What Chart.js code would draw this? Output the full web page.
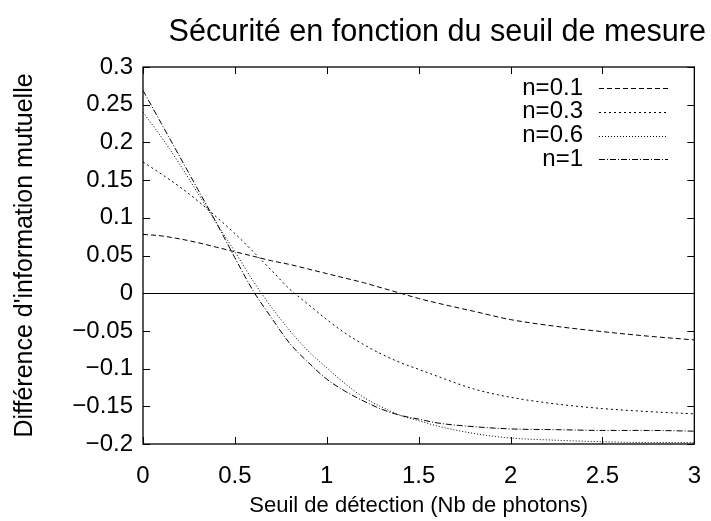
<!DOCTYPE html>
<html>
<head>
<meta charset="utf-8">
<script src="https://cdn.jsdelivr.net/npm/chart.js@4/dist/chart.umd.min.js"></script>
<style>
html,body{margin:0;padding:0;background:#fff;}
#wrap{width:711px;height:521px;}
</style>
</head>
<body>
<div id="wrap"><canvas id="c" width="711" height="521"></canvas></div>
<script>
const chartTitle = "Sécurité en fonction du seuil de mesure";
const xAxisTitle = "Seuil de détection (Nb de photons)";
const yAxisTitle = "Différence d'information mutuelle";

const seriesLabels = ["n=0.1", "n=0.3", "n=0.6", "n=1"];
const thresholds = [0, 0.1, 0.2, 0.3, 0.4, 0.5, 0.6, 0.7, 0.8, 0.9, 1.0, 1.1, 1.2, 1.3, 1.4, 1.5, 1.6, 1.8, 2.0, 2.25, 2.5, 2.75, 3.0];
const n01 = [0.078, 0.076, 0.072, 0.067, 0.061, 0.055, 0.049, 0.043, 0.038, 0.032, 0.026, 0.020, 0.014, 0.007, 0.000, -0.007, -0.013, -0.024, -0.035, -0.044, -0.051, -0.057, -0.062];
const n03 = [0.174, 0.158, 0.141, 0.122, 0.101, 0.079, 0.055, 0.030, 0.005, -0.015, -0.035, -0.053, -0.068, -0.081, -0.092, -0.101, -0.110, -0.127, -0.138, -0.147, -0.153, -0.157, -0.160];
const n06 = [0.240, 0.207, 0.171, 0.132, 0.093, 0.055, 0.016, -0.019, -0.050, -0.077, -0.099, -0.120, -0.138, -0.151, -0.162, -0.169, -0.176, -0.186, -0.192, -0.195, -0.197, -0.198, -0.198];
const n1 = [0.269, 0.225, 0.181, 0.137, 0.093, 0.047, 0.003, -0.033, -0.067, -0.092, -0.114, -0.130, -0.143, -0.154, -0.162, -0.167, -0.172, -0.177, -0.180, -0.181, -0.182, -0.182, -0.183];

const xTicks = [0, 0.5, 1, 1.5, 2, 2.5, 3];
const yTicks = [-0.2, -0.15, -0.1, -0.05, 0, 0.05, 0.1, 0.15, 0.2, 0.25, 0.3];

const FONT = "'Liberation Sans', Arial, Helvetica, sans-serif";
const dashes = [[5, 3], [2, 3], [1, 2], [6, 2, 1, 2]];
const allSeries = [n01, n03, n06, n1];

function fmt(v) {
  const s = String(Number(v.toFixed(2)));
  return s.replace('-', '\u2212');
}

const datasets = allSeries.map((arr, i) => ({
  label: seriesLabels[i],
  data: arr.map((y, k) => ({x: thresholds[k], y: y})),
  borderColor: '#000',
  borderWidth: 1,
  borderDash: dashes[i],
  pointRadius: 0,
  fill: false,
  cubicInterpolationMode: 'monotone'
}));

const framePlugin = {
  id: 'frame',
  afterDraw(chart) {
    const ctx = chart.ctx;
    const a = chart.chartArea;
    const xs = chart.scales.x, ys = chart.scales.y;
    ctx.save();
    ctx.strokeStyle = '#000';
    ctx.lineWidth = 1.3;
    ctx.setLineDash([]);
    ctx.strokeRect(a.left, a.top, a.right - a.left, a.bottom - a.top);
    ctx.lineWidth = 1;
    const tl = 7;
    ctx.beginPath();
    xTicks.forEach(v => {
      const p = Math.round(xs.getPixelForValue(v)) + 0.5;
      ctx.moveTo(p, a.bottom); ctx.lineTo(p, a.bottom - tl);
      ctx.moveTo(p, a.top); ctx.lineTo(p, a.top + tl);
    });
    yTicks.forEach(v => {
      const p = Math.round(ys.getPixelForValue(v)) + 0.5;
      ctx.moveTo(a.left, p); ctx.lineTo(a.left + tl, p);
      ctx.moveTo(a.right, p); ctx.lineTo(a.right - tl, p);
    });
    ctx.stroke();

    // title
    ctx.fillStyle = '#000';
    ctx.font = '30.6px ' + FONT;
    ctx.textAlign = 'right';
    ctx.textBaseline = 'alphabetic';
    ctx.fillText(chartTitle, 706, 41);

    // legend
    ctx.font = '24px ' + FONT;
    ctx.textBaseline = 'middle';
    chart.data.datasets.forEach((ds, i) => {
      const y = 88 + i * 23.8;
      ctx.textAlign = 'right';
      ctx.fillText(ds.label, 583, y);
      ctx.beginPath();
      ctx.setLineDash(ds.borderDash);
      ctx.lineWidth = 1;
      ctx.moveTo(599, Math.round(y) + 0.5);
      ctx.lineTo(668, Math.round(y) + 0.5);
      ctx.stroke();
    });
    ctx.restore();
  }
};

new Chart(document.getElementById('c'), {
  type: 'line',
  data: { datasets: datasets },
  options: {
    responsive: false,
    animation: false,
    devicePixelRatio: 1,
    layout: { padding: { top: 67, right: 14, left: 0, bottom: 0 } },
    plugins: { legend: { display: false }, tooltip: { enabled: false }, title: { display: false } },
    scales: {
      x: {
        type: 'linear', min: 0, max: 3,
        afterBuildTicks: s => { s.ticks = xTicks.map(v => ({value: v})); },
        afterFit: s => { s.height = 77; },
        grid: { display: false },
        border: { display: false },
        ticks: { callback: v => fmt(v), color: '#000', font: { size: 24, family: FONT }, padding: 10, maxRotation: 0, autoSkip: false },
        title: { display: true, text: xAxisTitle, color: '#000', font: { size: 22, family: FONT }, padding: { top: 0, bottom: 2 } }
      },
      y: {
        type: 'linear', min: -0.2, max: 0.3,
        afterBuildTicks: s => { s.ticks = yTicks.map(v => ({value: v})); },
        afterFit: s => { s.width = 143; },
        grid: { drawTicks: false, lineWidth: 1, color: c => (c.tick && c.tick.value === 0) ? '#000' : 'rgba(0,0,0,0)' },
        border: { display: false },
        ticks: { callback: v => fmt(v), color: '#000', font: { size: 24, family: FONT }, padding: 10, autoSkip: false },
        title: { display: true, text: yAxisTitle, color: '#000', font: { size: 25, family: FONT }, padding: { top: 10, bottom: 0 } }
      }
    }
  },
  plugins: [framePlugin]
});
</script>
</body>
</html>
